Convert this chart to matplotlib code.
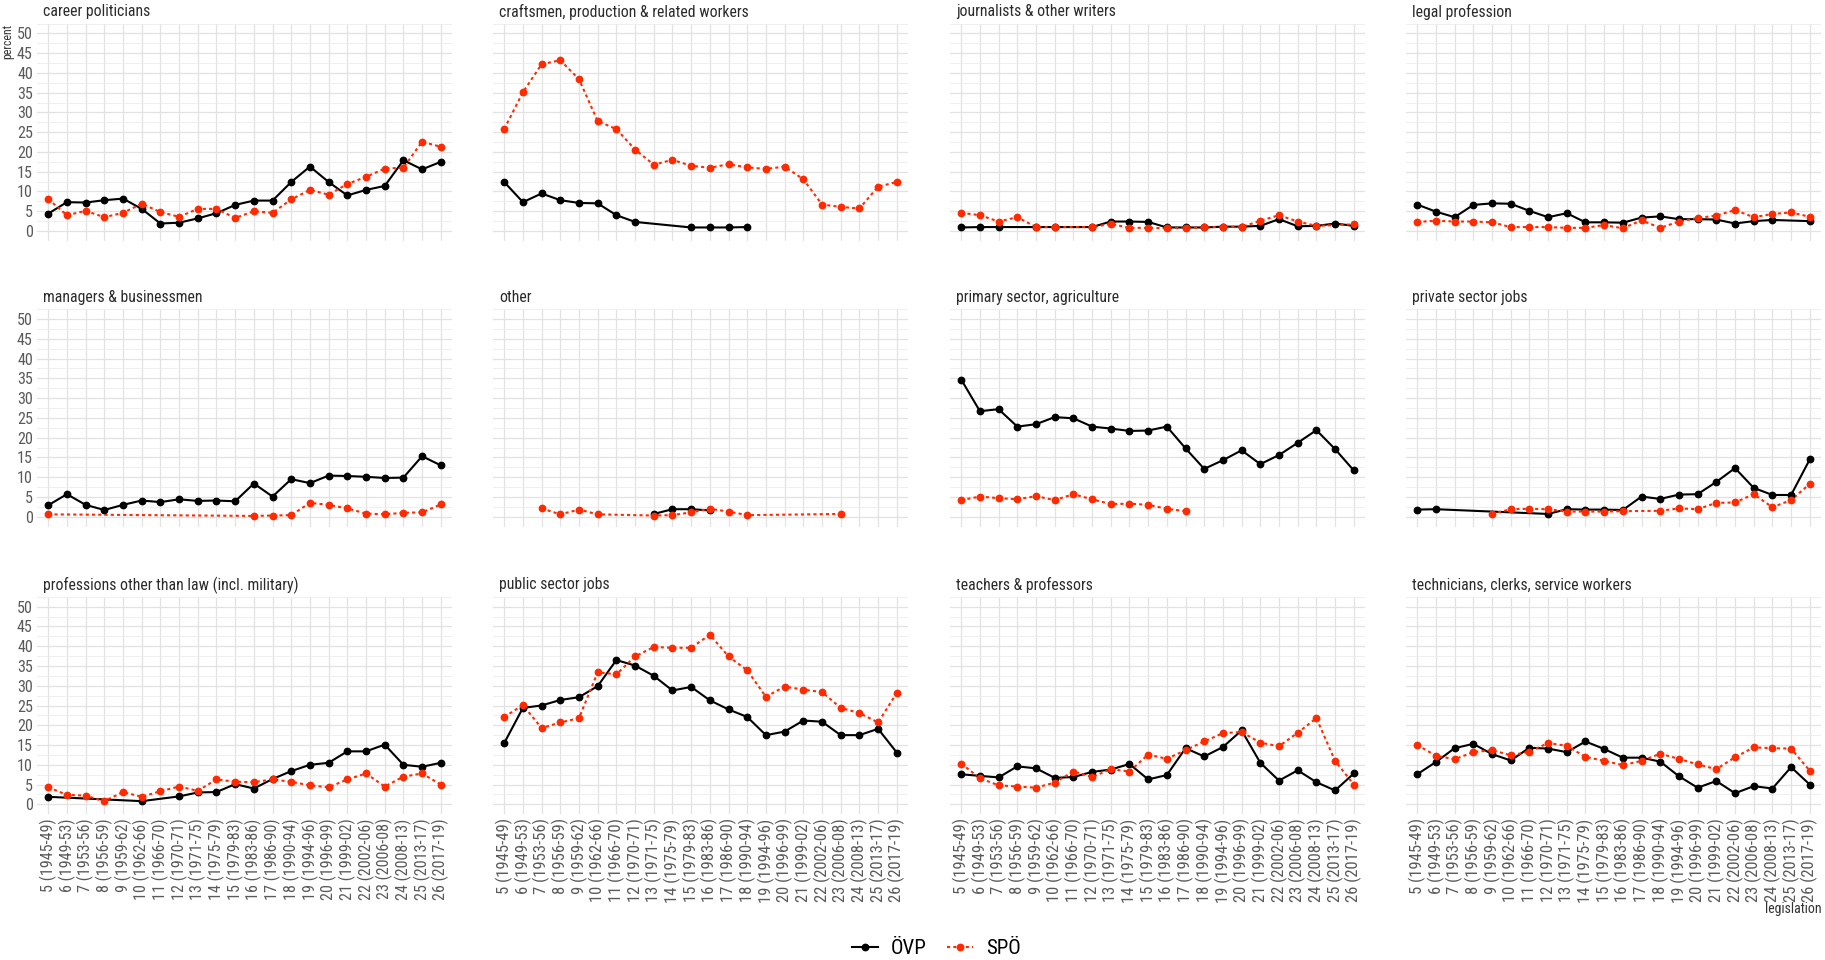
import numpy as np
import matplotlib
matplotlib.use("Agg")
import matplotlib.pyplot as plt
from matplotlib import font_manager
from matplotlib.lines import Line2D

installed = {f.name for f in font_manager.fontManager.ttflist}
narrow = [f for f in ['Liberation Sans Narrow', 'Roboto Condensed', 'DejaVu Sans Condensed']
          if f in installed]
plt.rcParams['font.family'] = narrow + ['Roboto', 'DejaVu Sans']
# narrow faces need no shrinking; plain Roboto is ~20% wider
shrink = 1.0 if narrow else 0.82

nan = np.nan

legislations = ["5 (1945-49)", "6 (1949-53)", "7 (1953-56)", "8 (1956-59)", "9 (1959-62)",
                "10 (1962-66)", "11 (1966-70)", "12 (1970-71)", "13 (1971-75)", "14 (1975-79)",
                "15 (1979-83)", "16 (1983-86)", "17 (1986-90)", "18 (1990-94)", "19 (1994-96)",
                "20 (1996-99)", "21 (1999-02)", "22 (2002-06)", "23 (2006-08)", "24 (2008-13)",
                "25 (2013-17)", "26 (2017-19)"]

# share of MPs (percent) per legislation, nan = party has no MP in that group
career_ovp = [4.4, 7.3, 7.2, 7.8, 8.2, 5.6, 1.9, 2.1, 3.2, 4.5, 6.6, 7.7, 7.7, 12.4, 16.3, 12.4, 9.0, 10.4, 11.4, 17.9, 15.6, 17.5]
career_spo = [8.1, 4.0, 5.1, 3.5, 4.6, 6.9, 4.8, 3.6, 5.6, 5.6, 3.3, 5.0, 4.6, 8.0, 10.4, 9.2, 11.9, 13.7, 15.8, 16.0, 22.6, 21.3]

crafts_ovp = [12.4, 7.3, 9.5, 7.8, 7.1, 7.0, 4.0, 2.3, nan, nan, 0.9, 0.9, 0.9, 1.0, nan, nan, nan, nan, nan, nan, nan, nan]
crafts_spo = [25.8, 35.1, 42.2, 43.2, 38.4, 27.8, 25.8, 20.6, 16.8, 18.0, 16.5, 16.0, 16.9, 16.1, 15.7, 16.3, 13.1, 6.7, 6.1, 5.7, 11.2, 12.4]

journ_ovp = [0.9, 1.0, 1.0, nan, 1.0, 1.0, nan, 1.0, 2.4, 2.4, 2.3, 0.9, 0.9, 0.9, 1.1, 1.1, 1.3, 3.0, 1.2, 1.3, 1.9, 1.3]
journ_spo = [4.6, 4.0, 2.4, 3.5, 1.0, 1.0, nan, 1.0, 1.8, 0.8, 0.8, 0.7, 0.8, 0.9, 1.1, 1.0, 2.6, 4.0, 2.4, 1.3, nan, 1.7]

legal_ovp = [6.7, 4.9, 3.5, 6.6, 7.0, 6.9, 5.1, 3.5, 4.5, 2.2, 2.2, 2.1, 3.4, 3.7, 3.0, 3.0, 2.9, 1.9, 2.5, 2.8, nan, 2.5]
legal_spo = [2.3, 2.6, 2.4, 2.4, 2.2, 1.0, 1.0, 1.0, 0.8, 0.8, 1.5, 0.7, 2.7, 0.8, 2.4, 3.3, 3.9, 5.3, 3.5, 4.3, 4.7, 3.6]

manag_ovp = [2.9, 5.7, 3.0, 1.7, 3.0, 4.1, 3.7, 4.4, 4.0, 4.1, 3.9, 8.4, 5.1, 9.5, 8.5, 10.4, 10.3, 10.1, 9.8, 9.9, 15.3, 13.0]
manag_spo = [0.6, nan, nan, nan, nan, nan, nan, nan, nan, nan, nan, 0.2, 0.3, 0.4, 3.5, 3.0, 2.1, 0.8, 0.6, 1.0, 1.1, 3.1]

other_ovp = [nan, nan, nan, nan, nan, nan, nan, nan, 0.7, 1.9, 1.9, 1.6, nan, nan, nan, nan, nan, nan, nan, nan, nan, nan]
other_spo = [nan, nan, 2.1, 0.6, 1.8, 0.6, nan, nan, 0.3, 0.4, 1.1, 2.0, 1.3, 0.4, nan, nan, nan, nan, 0.7, nan, nan, nan]

agri_ovp = [34.7, 26.7, 27.2, 22.8, 23.4, 25.2, 24.9, 22.8, 22.3, 21.7, 21.8, 22.8, 17.3, 12.1, 14.3, 16.8, 13.3, 15.6, 18.7, 21.9, 17.1, 11.7]
agri_spo = [4.2, 5.1, 4.7, 4.4, 5.2, 4.2, 5.7, 4.4, 3.2, 3.3, 3.0, 2.0, 1.4, nan, nan, nan, nan, nan, nan, nan, nan, nan]

private_ovp = [1.8, 1.9, nan, nan, nan, nan, nan, 0.7, 1.9, 1.8, 1.8, 1.7, 5.1, 4.5, 5.6, 5.7, 8.8, 12.3, 7.3, 5.5, 5.5, 14.5]
private_spo = [nan, nan, nan, nan, 0.7, 1.9, 2.0, 1.9, 1.3, 1.3, 1.3, 1.4, nan, 1.5, 2.1, 1.9, 3.5, 3.6, 5.7, 2.4, 4.2, 8.3]

prof_ovp = [1.9, nan, nan, nan, nan, 0.8, nan, 2.0, 3.0, 3.1, 5.1, 4.0, 6.4, 8.4, 10.0, 10.5, 13.4, 13.4, 15.1, 10.0, 9.5, 10.5]
prof_spo = [4.3, 2.4, 2.2, 0.8, 3.1, 1.9, 3.3, 4.5, 3.4, 6.3, 5.7, 5.6, 6.3, 5.7, 4.8, 4.3, 6.3, 7.8, 4.5, 7.0, 7.8, 5.0]

public_ovp = [15.5, 24.4, 25.0, 26.4, 27.1, 29.9, 36.5, 35.1, 32.5, 28.8, 29.7, 26.3, 24.0, 22.1, 17.5, 18.4, 21.2, 20.9, 17.5, 17.5, 19.1, 13.1]
public_spo = [22.1, 25.1, 19.3, 20.7, 21.8, 33.4, 32.9, 37.4, 39.8, 39.6, 39.6, 42.9, 37.4, 33.9, 27.2, 29.8, 29.0, 28.4, 24.4, 23.1, 20.7, 28.2]

teach_ovp = [7.6, 7.2, 6.8, 9.6, 9.1, 6.7, 6.9, 8.2, 8.8, 10.2, 6.3, 7.4, 14.2, 12.1, 14.5, 18.7, 10.5, 6.0, 8.6, 5.6, 3.5, 7.8]
teach_spo = [10.3, 6.6, 4.8, 4.5, 4.2, 5.5, 8.3, 6.9, 8.9, 8.3, 12.6, 11.5, 13.7, 15.9, 18.0, 18.3, 15.6, 14.7, 18.1, 21.8, 11.0, 5.0]

tech_ovp = [7.6, 10.7, 14.2, 15.3, 12.7, 11.1, 14.3, 14.1, 13.2, 15.9, 14.0, 11.8, 11.8, 10.8, 7.1, 4.2, 5.9, 2.8, 4.6, 4.0, 9.4, 5.0]
tech_spo = [15.0, 12.3, 11.4, 13.2, 13.7, 12.4, 13.3, 15.5, 14.8, 12.0, 11.0, 9.9, 11.0, 12.8, 11.5, 10.1, 8.9, 11.9, 14.4, 14.2, 14.1, 8.5]

panels = [
    ("career politicians", career_ovp, career_spo),
    ("craftsmen, production & related workers", crafts_ovp, crafts_spo),
    ("journalists & other writers", journ_ovp, journ_spo),
    ("legal profession", legal_ovp, legal_spo),
    ("managers & businessmen", manag_ovp, manag_spo),
    ("other", other_ovp, other_spo),
    ("primary sector, agriculture", agri_ovp, agri_spo),
    ("private sector jobs", private_ovp, private_spo),
    ("professions other than law (incl. military)", prof_ovp, prof_spo),
    ("public sector jobs", public_ovp, public_spo),
    ("teachers & professors", teach_ovp, teach_spo),
    ("technicians, clerks, service workers", tech_ovp, tech_spo),
]

W, H = 1825, 960
fig = plt.figure(figsize=(W / 100, H / 100), dpi=100)

col_left = [37, 493, 950, 1406]
row_top = [23.5, 309.2, 596.8]
pw, ph = 415, 217.4

red = '#FF2A00'
dotted = (0, (1.5, 1.5))
tick_color = '#5A5A5A'
x = np.arange(len(legislations))

for i, (title, ovp, spo) in enumerate(panels):
    r, c = divmod(i, 4)
    ax = fig.add_axes([col_left[c] / W, 1 - (row_top[r] + ph) / H, pw / W, ph / H])

    # lines first, then points (SPÖ points on top)
    v_ovp = np.asarray(ovp, float)
    v_spo = np.asarray(spo, float)
    m_ovp = ~np.isnan(v_ovp)
    m_spo = ~np.isnan(v_spo)
    ax.plot(x[m_ovp], v_ovp[m_ovp], color='black', lw=1.5, zorder=2)
    ax.plot(x[m_spo], v_spo[m_spo], color=red, lw=1.5, ls=dotted, zorder=2)
    ax.plot(x[m_ovp], v_ovp[m_ovp], 'o', color='black', ms=4.6, zorder=3)
    ax.plot(x[m_spo], v_spo[m_spo], 'o', color=red, ms=4.6, zorder=4)

    ax.set_xlim(-0.6, len(legislations) - 0.4)
    ax.set_ylim(-2.5, 52.5)
    ax.set_xticks(x)
    ax.set_xticklabels(legislations, rotation=90)
    ax.set_yticks(range(0, 55, 5))
    ax.set_yticks(np.arange(-2.5, 55, 5), minor=True)
    ax.grid(which='major', color='#E2E2E2', lw=0.9)
    ax.grid(which='minor', axis='y', color='#EDEDED', lw=0.6)
    ax.set_axisbelow(True)
    for s in ax.spines.values():
        s.set_visible(False)
    ax.tick_params(which='both', length=0, labelsize=11.6 * shrink, labelcolor=tick_color, pad=3)
    if c != 0:
        ax.tick_params(labelleft=False, labelsize=12 * shrink)
    if r != 2:
        ax.tick_params(labelbottom=False)

    ax.annotate(title, xy=(0, 1), xycoords='axes fraction', xytext=(4.5, 8.5),
                textcoords='offset points', ha='left', va='center',
                fontsize=11.3 * shrink, color='#2B2B2B')

fig.text(8 / W, 1 - 24 / H, 'percent', rotation=90, ha='center', va='top',
         fontsize=8.5 * shrink, color='#333333')
fig.text(1822 / W, 1 - 909 / H, 'legislation', ha='right', va='center',
         fontsize=10 * shrink, color='#333333')

handles = [
    Line2D([], [], color='black', lw=1.5, marker='o', ms=4.6),
    Line2D([], [], color=red, lw=1.5, ls=dotted, marker='o', ms=4.6),
]
fig.legend(handles, ['ÖVP', 'SPÖ'], loc='center', bbox_to_anchor=(0.513, 1 - 949 / H),
           ncol=2, frameon=False, fontsize=15, handlelength=1.25,
           columnspacing=1.0, handletextpad=0.6)

fig.savefig('out.png', dpi=100)
